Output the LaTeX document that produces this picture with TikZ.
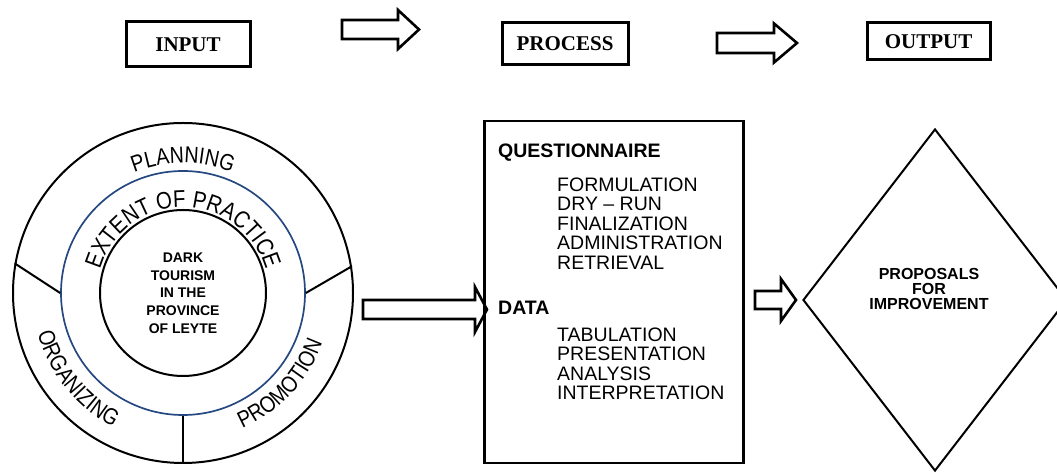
\documentclass[tikz,border=0pt]{standalone}
\usepackage{fontspec}
\setmainfont{Liberation Sans}
\newfontfamily\headserif{Liberation Serif}
\newfontfamily\narrowsans{Liberation Sans}[FakeStretch=0.85]
\usetikzlibrary{shapes.geometric,decorations.text}
\definecolor{ringblue}{RGB}{37,72,128}
\newcommand\rimfont{\narrowsans\fontsize{23}{23}\selectfont}
\newcommand\extentfont{\narrowsans\fontsize{24}{24}\selectfont}

\begin{document}
\begin{tikzpicture}[x=1pt,y=1pt,
  headbox/.style={draw, line width=3pt, inner sep=0pt, font=\headserif\bfseries\fontsize{21}{21}\selectfont},
  ring/.style={circle, draw, line width=2pt, inner sep=0pt},
  blockarrow/.style={draw, line width=2.6pt, line join=miter, fill=white},
  item/.style={anchor=base west, inner sep=0pt, font=\fontsize{19.5}{19.5}\selectfont},
  itemhead/.style={item, font=\bfseries\fontsize{19.5}{19.5}\selectfont}]
\useasboundingbox (0,0) rectangle (1057,473);

% top row
\node[headbox, minimum width=124, minimum height=45] (input) at (188,428.5) {INPUT};
\node[headbox, minimum width=126, minimum height=42] (process) at (565,429) {PROCESS};
\node[headbox, minimum width=123, minimum height=37] (output) at (928.5,431.5) {OUTPUT};

% block arrows: shaft start / head back / tip / centre y / half shaft / half head
\foreach \xa/\xb/\xt/\yc/\hs/\hh in {342/398/419/443.5/9.5/19.5, 717/774/797/430/10/19.5,
    363/475/487/163.5/9.5/22.5, 755/781/796/173/9/21}
  \draw[blockarrow] (\xa,\yc+\hs) -- (\xb,\yc+\hs) -- (\xb,\yc+\hh) -- (\xt,\yc)
    -- (\xb,\yc-\hh) -- (\xb,\yc-\hs) -- (\xa,\yc-\hs) -- cycle;

% rings
\coordinate (C) at (183,180);
\node[ring, minimum size=340] (outer) at (C) {};
\node[ring, draw=ringblue, line width=1.7pt, minimum size=244] (mid) at (C) {};
\node[ring, minimum size=166, align=center, font=\bfseries\fontsize{14}{17.7}\selectfont] (core) at (C)
  {DARK\\TOURISM\\IN THE\\PROVINCE\\OF LEYTE};
\draw[line width=2pt] (mid.180) -- (outer.170);
\draw[line width=2pt] (mid.0) -- (outer.9);
\draw[line width=2pt] (mid.270) -- (outer.270);

\path[decorate, decoration={text along path, text align=center, text={|\rimfont|PLANNING}}]
  (C) ++(150:130) arc[start angle=150, end angle=30, radius=130];
\path[decorate, decoration={text along path, text align=center, text={|\extentfont|EXTENT OF PRACTICE}}]
  (C) ++(185:86) arc[start angle=185, end angle=-5, radius=86];
\path[decorate, decoration={text along path, text align=center, text={|\rimfont|ORGANIZING}}]
  (C) ++(180:151) arc[start angle=180, end angle=258, radius=151];
\path[decorate, decoration={text along path, text align=center, text={|\rimfont|PROMOTION}}]
  (C) ++(278:148) arc[start angle=278, end angle=356, radius=148];

% process box
\node[draw, line width=2.5pt, minimum width=259, minimum height=342, anchor=north west] (procbox) at (483,353) {};
\node[itemhead] (quest) at (498,315) {QUESTIONNAIRE};
\foreach \w [count=\i] in {FORMULATION, DRY – RUN, FINALIZATION, ADMINISTRATION, RETRIEVAL}
  \node[item] (q\i) at (557,301-19.5*\i) {\w};
\node[itemhead] (data) at (498,158) {DATA};
\foreach \w [count=\i] in {TABULATION, PRESENTATION, ANALYSIS, INTERPRETATION}
  \node[item] (d\i) at (557,151-19.5*\i) {\w};

% output diamond
\node[diamond, draw, line width=2pt, minimum width=264, minimum height=342, inner sep=0pt] (proposal) at (935,173) {};
\node[align=center, font=\bfseries\fontsize{16}{15}\selectfont] (proptext) at (929,184) {PROPOSALS\\FOR\\IMPROVEMENT};
\end{tikzpicture}
\end{document}
